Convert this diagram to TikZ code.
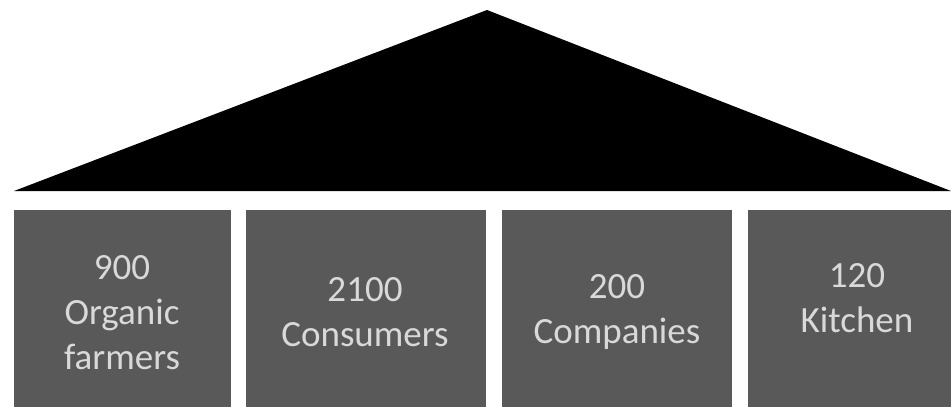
\documentclass[tikz,border=0pt]{standalone}
\usepackage{fontspec}
\setmainfont{Carlito}
\definecolor{boxgray}{HTML}{595959}
\definecolor{txtgray}{HTML}{D9D9D9}
\begin{document}
\begin{tikzpicture}[x=1pt,y=-1pt,
  pillar/.style={fill=boxgray,draw=none},
  lbl/.style={text=txtgray,align=center,font=\fontsize{37}{45}\selectfont,inner sep=0pt}]
\useasboundingbox (0,0) rectangle (951,407);
\fill[white] (0,0) rectangle (951,407);
% roof
\fill[black] (14,191) -- (487,10) -- (951,191) -- cycle;
% pillars
\fill[pillar] (14,210) rectangle (231,407);
\fill[pillar] (246,210) rectangle (486,407);
\fill[pillar] (502,210) rectangle (732,407);
\fill[pillar] (748,210) rectangle (951,407);
% labels
\node[lbl] (a) at (122,313) {900\\Organic\\farmers};
\node[lbl] (b) at (365,312) {2100\\Consumers};
\node[lbl] (c) at (617,312) {200\\Companies};
\node[lbl] (d) at (857,298) {120\\Kitchen};
\end{tikzpicture}
\end{document}
